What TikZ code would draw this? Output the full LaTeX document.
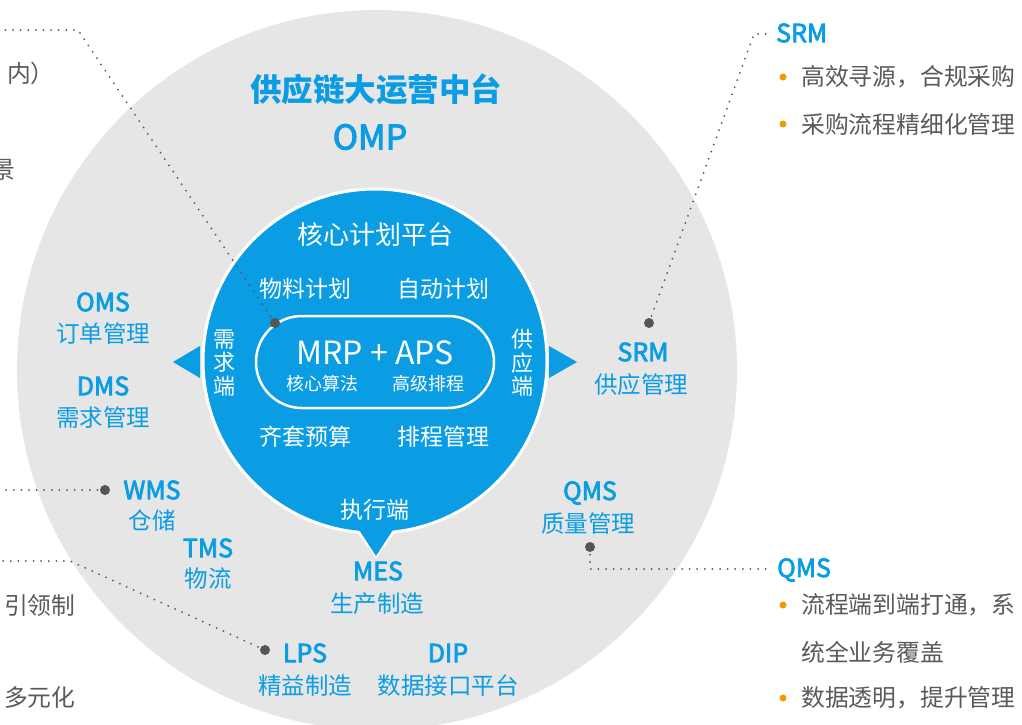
\documentclass[tikz,border=0pt]{standalone}
\usepackage{fontspec}
\setmainfont{Noto Sans CJK SC}
\newfontfamily\medfont[FakeBold=3]{Noto Sans CJK SC}
\definecolor{oblue}{HTML}{0A9DE3}
\definecolor{ogray}{HTML}{E6E6E6}
\definecolor{tgray}{HTML}{5A5A5A}
\definecolor{dgray}{HTML}{555555}
\definecolor{orng}{HTML}{F39800}
\begin{document}
\begin{tikzpicture}[x=1pt,y=-1pt,
  lbl/.style={text=oblue, font=\medfont\fontsize{25}{28}\selectfont, inner sep=0pt},
  sub/.style={text=oblue, font=\fontsize{23.5}{26}\selectfont, inner sep=0pt},
  wt/.style={text=white, font=\fontsize{23}{26}\selectfont, inner sep=0pt},
  gt/.style={text=tgray, font=\fontsize{23.8}{26}\selectfont, inner sep=0pt},
  dotline/.style={draw=dgray, line width=2pt, dash pattern=on 0pt off 7.6pt, line cap=round},
  marker/.style={fill=dgray},
  bullet/.style={fill=orng}]
\useasboundingbox (0,0) rectangle (1022,725);
\clip (0,0) rectangle (1022,725);
\fill[white] (0,0) rectangle (1022,725);
% big grey circle
\fill[ogray] (377,370) circle (360);
% triangles
\fill[oblue] (200,346) -- (173,362) -- (200,378) -- cycle;
\fill[oblue] (549,346) -- (577,362) -- (549,378) -- cycle;
\filldraw[fill=oblue, draw=white, line width=3pt, line join=round] (354,525) -- (376,556) -- (398,525) -- cycle;
% blue circle
\filldraw[fill=oblue, draw=white, line width=3pt] (375,361) circle (172);
\fill[oblue] (354,522) -- (376,556) -- (398,522) -- cycle;
% stadium
\draw[white, line width=2.5pt, rounded corners=46pt] (256,316) rectangle (494,408);
% titles
\node[text=oblue, font=\bfseries\fontsize{31.5}{34}\selectfont, inner sep=0pt] (title) at (376,89) {供应链大运营中台};
\node[text=oblue, font=\medfont\fontsize{34}{36}\selectfont, inner sep=0pt] (omp) at (370,137) {OMP};
% inner texts
\node[wt, font=\fontsize{26}{28}\selectfont] (core) at (375,235) {核心计划平台};
\node[wt] (wl) at (305,289) {物料计划};
\node[wt] (zd) at (443,289) {自动计划};
\node[text=white, font=\fontsize{32}{34}\selectfont, inner sep=0pt] (mrp) at (375,353) {MRP + APS};
\node[text=white, font=\fontsize{18}{20}\selectfont, inner sep=0pt] (hx) at (322,384) {核心算法};
\node[text=white, font=\fontsize{18}{20}\selectfont, inner sep=0pt] (gj) at (428,384) {高级排程};
\node[wt, align=center, font=\fontsize{22}{23.5}\selectfont] (xq) at (224,363) {需\\求\\端};
\node[wt, align=center, font=\fontsize{22}{23.5}\selectfont] (gy) at (522,363) {供\\应\\端};
\node[wt] (qt) at (305,437) {齐套预算};
\node[wt] (pc) at (443,437) {排程管理};
\node[wt] (zx) at (375,510) {执行端};
% outer blue labels
\node[lbl] (oms) at (103,302) {OMS};
\node[sub] (omsz) at (103,334) {订单管理};
\node[lbl] (dms) at (103,386) {DMS};
\node[sub] (dmsz) at (103,418) {需求管理};
\node[lbl] (srm) at (643,352) {SRM};
\node[sub] (srmz) at (641,385) {供应管理};
\node[lbl] (wms) at (152,490) {WMS};
\node[sub] (wmsz) at (152,521) {仓储};
\node[lbl] (tms) at (208,548) {TMS};
\node[sub] (tmsz) at (208,579) {物流};
\node[lbl] (mes) at (378,571) {MES};
\node[sub] (mesz) at (377,604) {生产制造};
\node[lbl] (lps) at (305,653) {LPS};
\node[sub] (lpsz) at (305,686) {精益制造};
\node[lbl] (dip) at (448,653) {DIP};
\node[sub] (dipz) at (448,686) {数据接口平台};
\node[lbl] (qms) at (590,493) {QMS};
\node[sub] (qmsz) at (588,524) {质量管理};
% right side texts
\node[lbl, anchor=west] (rsrm) at (776,33) {SRM};
\node[gt, anchor=west] (r1) at (801,77) {高效寻源，合规采购};
\node[gt, anchor=west] (r2) at (801,124) {采购流程精细化管理};
\node[lbl, anchor=west] (rqms) at (777,570) {QMS};
\node[gt, anchor=west] (r3) at (801,605) {流程端到端打通，系};
\node[gt, anchor=west] (r4) at (801,652) {统全业务覆盖};
\node[gt, anchor=west] (r5) at (801,698) {数据透明，提升管理};
\fill[bullet] (783,77) circle (3.5);
\fill[bullet] (783,124) circle (3.5);
\fill[bullet] (783,605) circle (3.5);
\fill[bullet] (783,698) circle (3.5);
% left partial texts (cut off at the picture's edge, as in the reference)
\node[gt, anchor=west] (l1) at (7,73) {内）};
\node[gt, anchor=east] (l2) at (15,170) {景};
\node[gt, anchor=west] (l3) at (4,605) {引领制};
\node[gt, anchor=west] (l4) at (4,697) {多元化};
% connector coordinates
\coordinate (dm) at (275,323);
\coordinate (cm) at (78,30);
\coordinate (em) at (-5,30);
\coordinate (dw) at (105,490);
\coordinate (ew) at (-5,490);
\coordinate (dl) at (265,650);
\coordinate (cl) at (70,561);
\coordinate (el) at (-5,561);
\coordinate (ds) at (649,323);
\coordinate (cs) at (754,34);
\coordinate (es) at (770,34);
\coordinate (dq) at (590,547);
\coordinate (cq) at (590,569);
\coordinate (eq) at (770,569);
% dotted connectors
\draw[dotline] (dm) -- (cm) -- (em);
\draw[dotline] (dw) -- (ew);
\draw[dotline] (dl) -- (cl) -- (el);
\draw[dotline] (ds) -- (cs) -- (es);
\draw[dotline] (dq) -- (cq) -- (eq);
\fill[marker] (dm) circle (5);
\fill[marker] (dw) circle (5);
\fill[marker] (dl) circle (5);
\fill[marker] (ds) circle (5);
\fill[marker] (dq) circle (5);
\end{tikzpicture}
\end{document}
